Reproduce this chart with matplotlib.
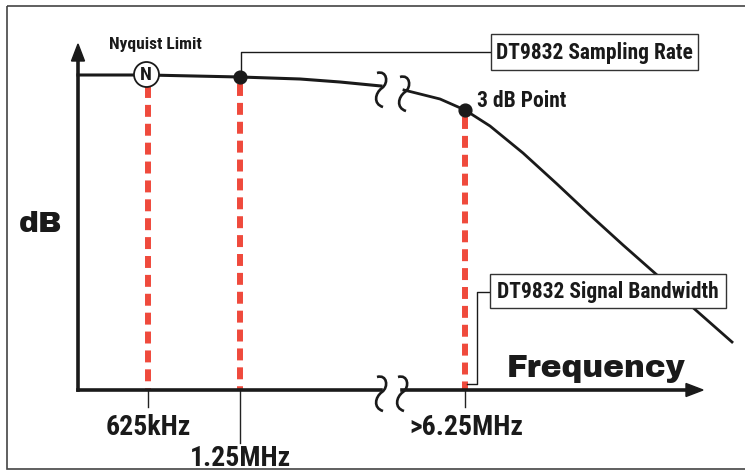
import matplotlib.pyplot as plt
from matplotlib.path import Path
from matplotlib.patches import PathPatch, Rectangle, Polygon

plt.rcParams['lines.scale_dashes'] = False

# curve (pixel units, y grows downward)
curve_left_x = [78, 148, 240, 300, 340, 381]
curve_left_y = [75, 75, 77, 79, 82, 86]
curve_right_x = [404, 440, 465, 490, 523, 557, 590, 623, 657, 690, 732]
curve_right_y = [90, 99, 110, 126, 153, 184, 215, 245, 275, 305, 342]

marker_x = [148, 240, 465]
marker_top = [86, 84, 117]
tick_bottom = [407, 443, 407]
tick_labels = ['625kHz', '1.25MHz', '>6.25MHz']
tick_label_y = [435, 466, 435]

RED = '#EF4A3C'
INK = '#1a1a1a'
NARROW = ['Roboto Condensed', 'DejaVu Sans']
HEAVY = ['Archivo Black', 'DejaVu Sans']
AX_X, AX_Y = 78, 390

fig = plt.figure(figsize=(7.45, 4.70), dpi=100)
ax = fig.add_axes([0, 0, 1, 1])
ax.set_xlim(0, 745)
ax.set_ylim(470, 0)
ax.axis('off')

# frame
ax.add_patch(Rectangle((6.5, 5.5), 745, 463.5, fill=False, ec='#444444', lw=1.2))

# red dashed lines
for x, y0 in zip(marker_x, marker_top):
    ax.plot([x, x], [y0, AX_Y], color=RED, lw=4.3, dashes=(8.6, 5.0),
            solid_capstyle='butt', dash_capstyle='butt', zorder=2)

# ticks below the axis
for x, yb in zip(marker_x, tick_bottom):
    ax.plot([x, x], [AX_Y, yb], color='#222222', lw=1.0, zorder=3)

# axes with arrows
ax.plot([AX_X, AX_X], [AX_Y, 58], color=INK, lw=2.6, solid_capstyle='projecting', zorder=4)
ax.add_patch(Polygon([[AX_X - 6.5, 61], [AX_X + 6.5, 61], [AX_X, 44]], closed=True,
                     color=INK, zorder=4))
ax.plot([AX_X, 381], [AX_Y, AX_Y], color=INK, lw=2.6, zorder=4)
ax.plot([402, 690], [AX_Y, AX_Y], color=INK, lw=2.6, zorder=4)
ax.add_patch(Polygon([[686, AX_Y - 6.5], [686, AX_Y + 6.5], [703, AX_Y]], closed=True,
                     color=INK, zorder=4))

# response curve
ax.plot(curve_left_x, curve_left_y, color=INK, lw=2.2, zorder=4)
ax.plot(curve_right_x, curve_right_y, color=INK, lw=2.0, zorder=4)


def brk(cx, cy):
    # axis break squiggle
    verts = [(cx - 4, cy - 13), (cx + 6, cy - 16), (cx + 8, cy - 3), (cx + 1, cy + 2),
             (cx - 6, cy + 7), (cx - 8, cy + 18), (cx + 2, cy + 21)]
    codes = [Path.MOVETO] + [Path.CURVE4] * 6
    ax.add_patch(PathPatch(Path(verts, codes), fill=False, ec=INK, lw=1.9, zorder=5))


for bx, by in [(381, 86), (404, 90), (381, AX_Y), (402, AX_Y)]:
    brk(bx, by)

# points on the curve
ax.plot([240, 465], [77, 110], 'o', color=INK, ms=9.2, zorder=6)
ax.plot([146], [74], 'o', mfc='white', mec=INK, mew=1.3, ms=18, zorder=6)
ax.text(146, 80.5, 'N', ha='center', va='baseline', fontsize=14, fontweight='bold',
        family=NARROW, color=INK, zorder=7)
ax.text(155, 49, 'Nyquist Limit', ha='center', va='baseline', fontsize=12.5,
        fontweight='bold', family=NARROW, color=INK)

# sampling rate callout
ax.plot([241, 241, 491], [77, 52, 52], color=INK, lw=1.0, zorder=3)
ax.add_patch(Rectangle((491, 34), 207, 36, fc='white', ec='#333333', lw=1.0, zorder=5))
ax.text(594.5, 59, 'DT9832 Sampling Rate', ha='center', va='baseline', fontsize=15.5,
        fontweight='bold', family=NARROW, color=INK, zorder=6)

ax.text(477, 107, '3 dB Point', ha='left', va='baseline', fontsize=15.5,
        fontweight='bold', family=NARROW, color=INK)

# bandwidth callout
ax.plot([467, 477, 477, 490], [384, 384, 292, 292], color=INK, lw=1.0, zorder=3)
ax.add_patch(Rectangle((490, 274), 236, 34, fc='white', ec='#333333', lw=1.0, zorder=5))
ax.text(608, 298, 'DT9832 Signal Bandwidth', ha='center', va='baseline', fontsize=15.5,
        fontweight='bold', family=NARROW, color=INK, zorder=6)

# axis titles
ax.text(40.5, 232, 'dB', ha='center', va='baseline', fontsize=21.5, family=HEAVY, color=INK)
ax.text(596, 377, 'Frequency', ha='center', va='baseline', fontsize=22.5, family=HEAVY,
        color=INK)

for x, lab, y in zip(marker_x, tick_labels, tick_label_y):
    ax.text(x + (1 if lab.startswith('>') else 0), y, lab, ha='center', va='baseline',
            fontsize=20, fontweight='bold', family=NARROW, color=INK)

plt.savefig('out.png', dpi=100)
